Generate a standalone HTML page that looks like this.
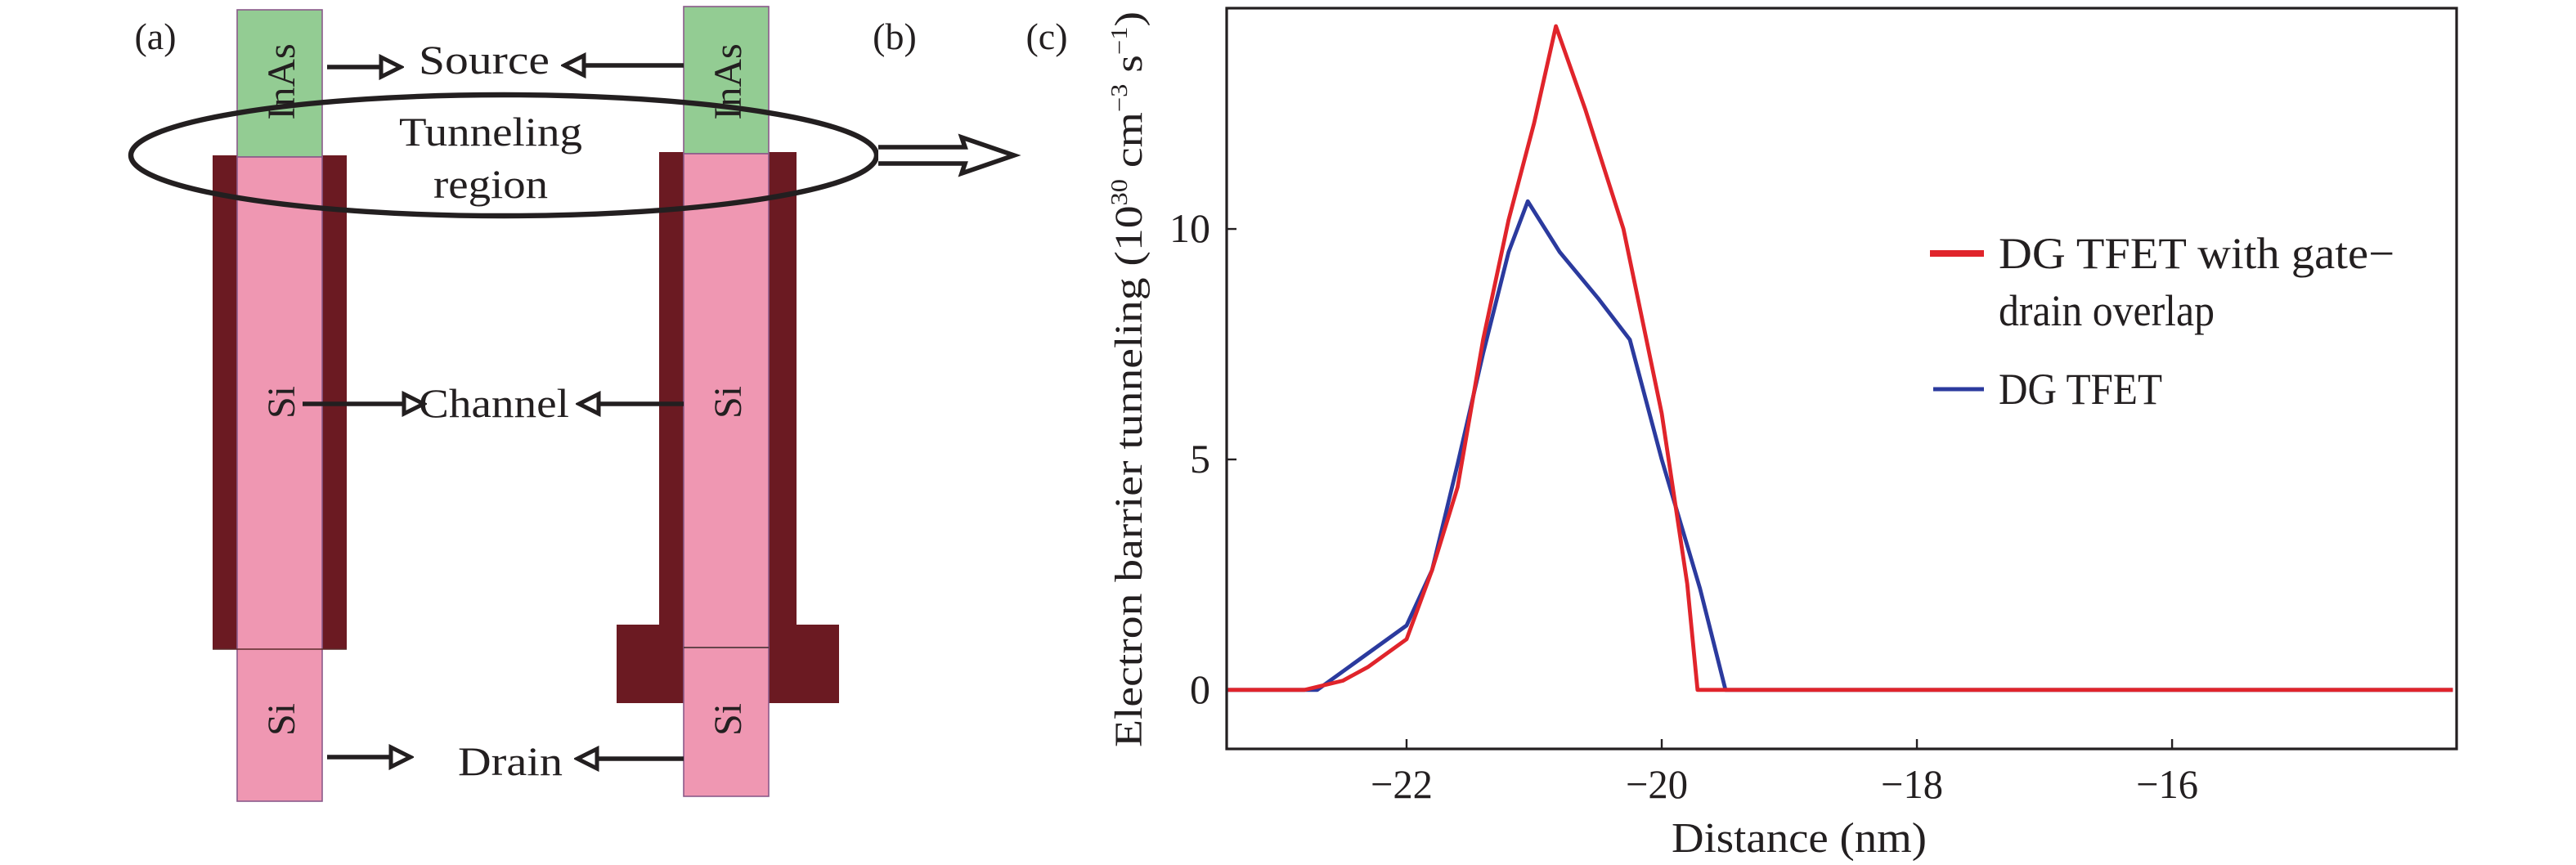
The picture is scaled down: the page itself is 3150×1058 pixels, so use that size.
<!DOCTYPE html>
<html><head><meta charset="utf-8"><style>
html,body{margin:0;padding:0;background:#fff;}
svg{display:block;}
text{font-family:"Liberation Serif",serif;fill:#231f20;}
</style></head><body>
<svg id="fig" width="3150" height="1058" viewBox="0 0 1575 529" xmlns="http://www.w3.org/2000/svg">
<defs>
<marker id="ah" markerWidth="16" markerHeight="16" refX="13" refY="8" orient="auto" markerUnits="userSpaceOnUse">
<path d="M2,2 L14,8 L2,14 Z" fill="#fff" stroke="#231f20" stroke-width="2.5"/>
</marker>
</defs>
<g>
<text x="95" y="30" font-size="23" text-anchor="middle">(a)</text>
<text x="547" y="30" font-size="23" text-anchor="middle">(b)</text>
<text x="640" y="30" font-size="23" text-anchor="middle">(c)</text>
<g>
<rect x="130" y="95" width="82" height="302" fill="#6b1a22"/>
<rect x="145" y="6" width="52" height="90" fill="#93cc93" stroke="#8a5a8a" stroke-width="0.8"/>
<rect x="145" y="96" width="52" height="394" fill="#ef97b2" stroke="#8a5a8a" stroke-width="0.8"/>
<line x1="130" y1="397" x2="212" y2="397" stroke="#5a2a2a" stroke-width="0.8"/>
<text transform="translate(180,50) rotate(-90)" font-size="24" text-anchor="middle">InAs</text>
<text transform="translate(180,246) rotate(-90)" font-size="24" text-anchor="middle">Si</text>
<text transform="translate(180,440) rotate(-90)" font-size="24" text-anchor="middle">Si</text>
</g>
<g>
<rect x="403" y="93" width="84" height="290" fill="#6b1a22"/>
<rect x="377" y="382" width="136" height="48" fill="#6b1a22"/>
<rect x="418" y="4" width="52" height="90" fill="#93cc93" stroke="#8a5a8a" stroke-width="0.8"/>
<rect x="418" y="94" width="52" height="393" fill="#ef97b2" stroke="#8a5a8a" stroke-width="0.8"/>
<line x1="418" y1="396" x2="470" y2="396" stroke="#3a2a2a" stroke-width="0.8"/>
<text transform="translate(453,50) rotate(-90)" font-size="24" text-anchor="middle">InAs</text>
<text transform="translate(453,246) rotate(-90)" font-size="24" text-anchor="middle">Si</text>
<text transform="translate(453,440) rotate(-90)" font-size="24" text-anchor="middle">Si</text>
</g>
<text x="296" y="45" font-size="25" text-anchor="middle" textLength="80" lengthAdjust="spacingAndGlyphs">Source</text>
<text x="300" y="89" font-size="25" text-anchor="middle" textLength="112" lengthAdjust="spacingAndGlyphs">Tunneling</text>
<text x="300" y="121" font-size="25" text-anchor="middle" textLength="70" lengthAdjust="spacingAndGlyphs">region</text>
<text x="302" y="255" font-size="25" text-anchor="middle" textLength="92" lengthAdjust="spacingAndGlyphs">Channel</text>
<text x="312" y="474" font-size="25" text-anchor="middle" textLength="64" lengthAdjust="spacingAndGlyphs">Drain</text>
<g stroke="#231f20" stroke-width="2.8" fill="none">
<line x1="200" y1="41" x2="244" y2="41" marker-end="url(#ah)"/>
<line x1="418" y1="40" x2="346" y2="40" marker-end="url(#ah)"/>
<line x1="185" y1="247" x2="258" y2="247" marker-end="url(#ah)"/>
<line x1="418" y1="247" x2="355" y2="247" marker-end="url(#ah)"/>
<line x1="200" y1="463" x2="250" y2="463" marker-end="url(#ah)"/>
<line x1="418" y1="464" x2="354" y2="464" marker-end="url(#ah)"/>
<ellipse cx="308" cy="95" rx="228" ry="37" stroke-width="3.2"/>
<path d="M537,90 L590,90 L588,84 L620,95 L588,106 L590,100 L537,100" stroke-width="2.8" fill="#fff"/>
</g>
</g>
<g id="chart"></g>
</svg>
<script>
const redX=[-23.4,-22.8,-22.5,-22.3,-22.0,-21.8,-21.6,-21.4,-21.2,-21.0,-20.83,-20.6,-20.3,-20.0,-19.8,-19.72,-13.8];
const redY=[0,0,0.2,0.5,1.1,2.6,4.4,7.6,10.2,12.3,14.4,12.6,10.0,6.0,2.3,0,0];
const blueX=[-23.4,-22.7,-22.4,-22.0,-21.8,-21.6,-21.4,-21.2,-21.05,-20.8,-20.5,-20.25,-20.0,-19.7,-19.5,-13.8];
const blueY=[0,0,0.6,1.4,2.6,4.9,7.3,9.5,10.6,9.5,8.5,7.6,5.0,2.2,0,0];
const xTicks=[-22,-20,-18,-16];
const yTicks=[0,5,10];
const seriesNames=["DG TFET with gate\u2212","DG TFET"];
const NS="http://www.w3.org/2000/svg";
const L=750,R=1502,T=5,B=458;
const xMin=-23.41,xMax=-13.77,yMin=-1.28,yMax=14.79;
function sx(v){return L+(v-xMin)/(xMax-xMin)*(R-L);}
function sy(v){return B-(v-yMin)/(yMax-yMin)*(B-T);}
const g=document.getElementById('chart');
function mk(tag,attrs){const e=document.createElementNS(NS,tag);for(const k in attrs)e.setAttribute(k,attrs[k]);g.appendChild(e);return e;}
const frame=mk('rect',{x:L,y:T,width:R-L,height:B-T,fill:'none',stroke:'#231f20','stroke-width':1.6});


xTicks.forEach(v=>{
 const t=mk('line',{x1:sx(v),x2:sx(v),y1:B,y2:B-6,stroke:'#231f20','stroke-width':1.2});
 
 
 const l=mk('text',{x:sx(v)-3,y:B+30,'font-size':25,'text-anchor':'middle',textLength:38,lengthAdjust:'spacingAndGlyphs'});
 l.textContent='\u2212'+Math.abs(v);
 
 
});
yTicks.forEach(v=>{
 const t=mk('line',{x1:L,x2:L+6,y1:sy(v),y2:sy(v),stroke:'#231f20','stroke-width':1.2});
 
 
 const l=mk('text',{x:L-10,y:sy(v)+8,'font-size':25,'text-anchor':'end'});
 l.textContent=String(v);
 
 
});
function line(xs,ys,color,name){
 const d=xs.map((x,i)=>(i?'L':'M')+sx(x).toFixed(1)+','+sy(ys[i]).toFixed(1)).join(' ');
 const p=mk('path',{d:d,fill:'none',stroke:color,'stroke-width':2.4,'stroke-linejoin':'round'});
 
 
}
line(blueX,blueY,'#2b3a9e','series-dg-tfet');
line(redX,redY,'#e0242b','series-dg-tfet-overlap');
const xl=mk('text',{x:1100,y:521,'font-size':26,'text-anchor':'middle',textLength:156,lengthAdjust:'spacingAndGlyphs'});
xl.textContent='Distance (nm)';


const yl=mk('text',{transform:'translate(698,232) rotate(-90)','font-size':24,'text-anchor':'middle',textLength:450,lengthAdjust:'spacingAndGlyphs'});
yl.innerHTML='Electron barrier tunneling (10<tspan font-size="14" dy="-9">30</tspan><tspan dy="9"> cm</tspan><tspan font-size="14" dy="-9">\u22123</tspan><tspan dy="9"> s</tspan><tspan font-size="14" dy="-9">\u22121</tspan><tspan dy="9">)</tspan>';


const le1=mk('line',{x1:1180,x2:1213,y1:155,y2:155,stroke:'#e0242b','stroke-width':4});


const lt1=mk('text',{x:1222,y:164,'font-size':27,textLength:242,lengthAdjust:'spacingAndGlyphs'});
lt1.textContent=seriesNames[0];


const lt1b=mk('text',{x:1222,y:199,'font-size':27,textLength:132,lengthAdjust:'spacingAndGlyphs'});
lt1b.textContent='drain overlap';


const le2=mk('line',{x1:1182,x2:1213,y1:238,y2:238,stroke:'#2b3a9e','stroke-width':2.5});


const lt2=mk('text',{x:1222,y:247,'font-size':27,textLength:100,lengthAdjust:'spacingAndGlyphs'});
lt2.textContent=seriesNames[1];


</script>
</body></html>
